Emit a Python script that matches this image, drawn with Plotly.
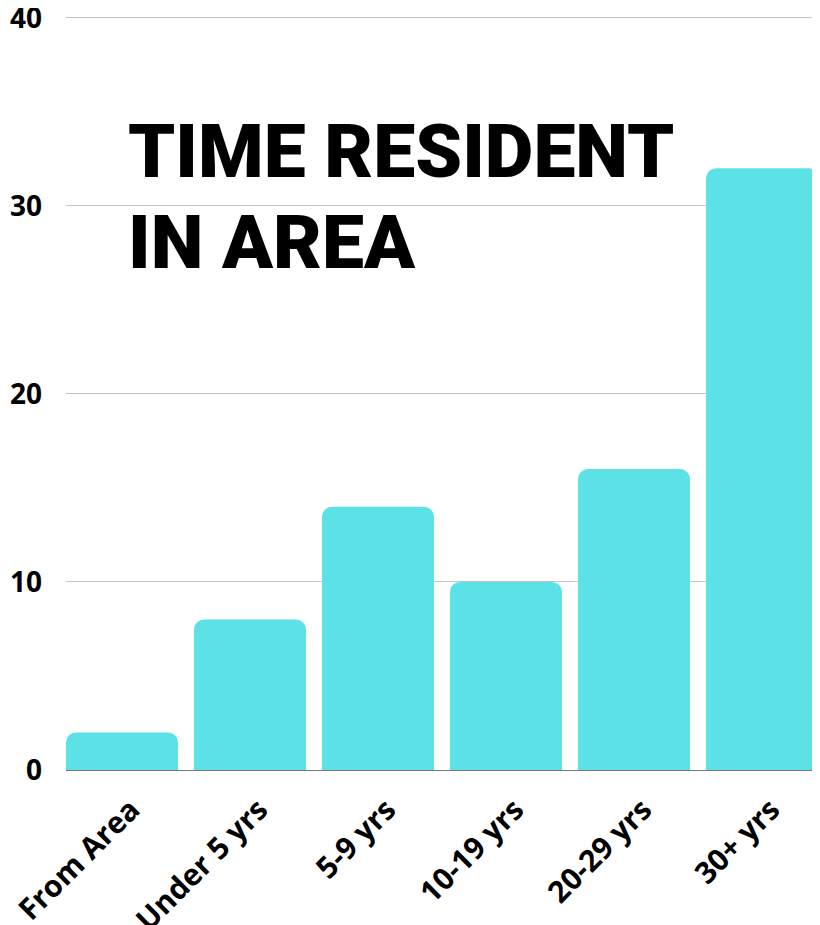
import plotly.graph_objects as go

categories = ["From Area", "Under 5 yrs", "5-9 yrs", "10-19 yrs", "20-29 yrs", "30+ yrs"]
values = [2, 8, 14, 10, 16, 32]
y_ticks = [0, 10, 20, 30, 40]
title_lines = ["TIME RESIDENT", "IN AREA"]

fig = go.Figure(go.Bar(
    x=categories, y=values,
    marker=dict(color="#5ce1e6", cornerradius=10, line=dict(width=0)),
    hoverinfo="skip",
))

# page renders the figure with an 8px body offset
W, H = 812, 917
ml, mr, mt, mb = 58, 2, 6, 155

fig.update_layout(
    width=W, height=H,
    margin=dict(l=ml, r=mr, t=mt, b=mb, pad=0, autoexpand=False),
    paper_bgcolor="white", plot_bgcolor="white",
    bargap=0.125, showlegend=False,
    font=dict(family="Open Sans", color="black"),
)
fig.update_xaxes(
    range=[-0.4375, 5.4375], tickangle=-45, automargin=False,
    tickfont=dict(family="Open Sans", size=30, weight="bold", color="black"),
    showline=True, linecolor="#777777", linewidth=1,
    showgrid=False, ticks="", ticklabeloverflow="allow",
    ticklabelstandoff=9, ticklabelshift=9,
)
fig.update_yaxes(
    range=[0, 40.2], tickvals=y_ticks, automargin=False,
    tickfont=dict(family="Open Sans", size=28, weight="bold", color="black"),
    showgrid=True, gridcolor="#c4c4c4", gridwidth=1,
    zeroline=False, showline=False, ticks="", ticklabelstandoff=23,
    ticklabeloverflow="allow",
)

for line, yc in zip(title_lines, [0.819, 0.698]):
    fig.add_annotation(
        text=line, xref="paper", yref="paper", x=0.08, y=yc,
        xanchor="left", yanchor="middle", showarrow=False,
        font=dict(family="Roboto", size=75, weight=900, color="black"),
    )

fig.write_html("out.html")
